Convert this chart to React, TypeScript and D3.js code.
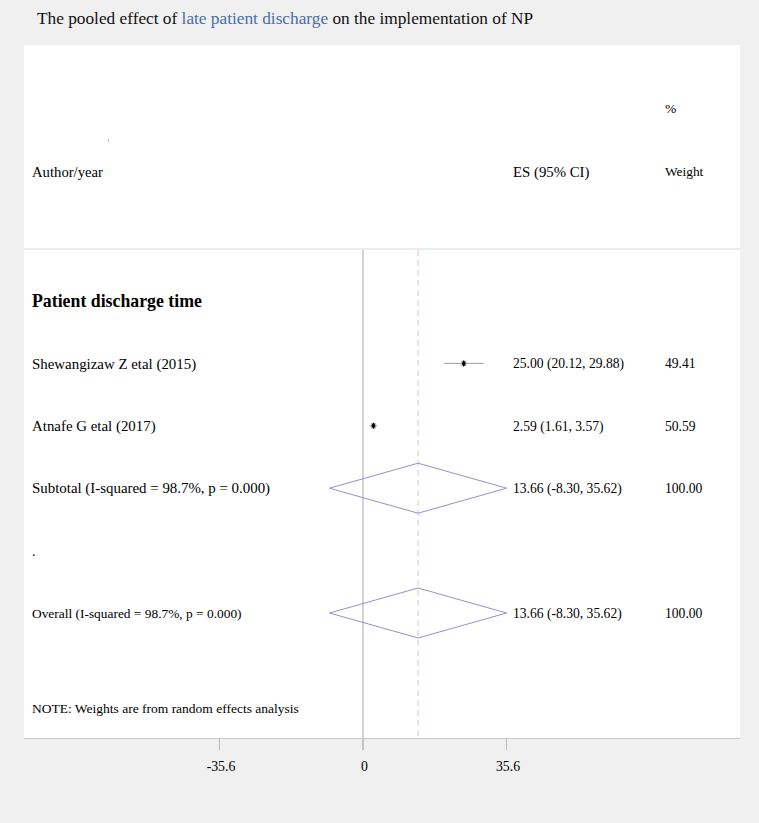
import React from "react";
import * as d3 from "d3";

const studies = ["Shewangizaw Z etal (2015)", "Atnafe G etal (2017)"];
const es = [25.0, 2.59];
const lower = [20.12, 1.61];
const upper = [29.88, 3.57];
const weights = [49.41, 50.59];
const esLabels = ["25.00 (20.12, 29.88)", "2.59 (1.61, 3.57)"];

const pooled = { es: 13.66, lo: -8.3, hi: 35.62, label: "13.66 (-8.30, 35.62)", weight: "100.00" };
const subtotalLabel = "Subtotal (I-squared = 98.7%, p = 0.000)";
const overallLabel = "Overall (I-squared = 98.7%, p = 0.000)";
const groupLabel = "Patient discharge time";
const ticks = [-35.6, 0, 35.6];

const W = 759;
const H = 823;
const FONT = "'Liberation Serif', 'Times New Roman', serif";

export default function App() {
  // x scale: value -> pixel (0 at 363, 35.6 at 506.5)
  const x = d3.scaleLinear().domain([0, 35.6]).range([363, 506.5]);
  // row index -> y
  const row = d3.scaleLinear().domain([0, 5]).range([301, 613]);

  const panelL = 24;
  const panelR = 740;
  const esX = 513;
  const wX = 665;

  const diamond = (y: number) => {
    const h = 25;
    return `M${x(pooled.lo)},${y} L${x(pooled.es)},${y - h} L${x(pooled.hi)},${y} L${x(pooled.es)},${y + h} Z`;
  };

  const boxSize = (w: number) => Math.sqrt(w) * 0.75;

  return (
    <div style={{ position: "fixed", left: 0, top: 0, width: W, height: H }}>
      <svg width={W} height={H} style={{ display: "block" }} fontFamily={FONT}>
        <rect width={W} height={H} fill="#f0f0f0" />

        {/* title */}
        <text x={37} y={24} fontSize={17.3} fill="#111">
          The pooled effect of <tspan fill="#4a6ea6">late patient discharge</tspan> on the implementation of NP
        </text>

        {/* header panel */}
        <rect x={panelL} y={45} width={panelR - panelL} height={203} fill="#fff" />
        <line x1={panelL} x2={panelR} y1={249} y2={249} stroke="#ebebeb" strokeWidth={2} />
        <rect x={panelL} y={250} width={panelR - panelL} height={488} fill="#fff" />

        <line x1={108.5} x2={108.5} y1={139} y2={142} stroke="#aaa" strokeWidth={0.8} />
        <text x={wX} y={113} fontSize={13.5}>%</text>
        <text x={32} y={177} fontSize={14.7}>Author/year</text>
        <text x={esX} y={177} fontSize={14.8}>ES (95% CI)</text>
        <text x={wX} y={176} fontSize={13.4}>Weight</text>

        {/* reference lines */}
        <line x1={x(0)} x2={x(0)} y1={250} y2={750} stroke="#c4c4c4" strokeWidth={1.5} />
        <line x1={x(pooled.es)} x2={x(pooled.es)} y1={250} y2={738} stroke="#e6c0c4" strokeWidth={1} strokeDasharray="6,4" />

        {/* group label */}
        <text x={32} y={row(0)} dy="0.35em" fontSize={17.8} fontWeight="bold">{groupLabel}</text>

        {studies.map((s, i) => {
          const y = row(i + 1);
          const b = boxSize(weights[i]);
          const cx = x(es[i]);
          return (
            <g key={s}>
              <text x={32} y={y} dy="0.35em" fontSize={14.9}>{s}</text>
              <line x1={x(lower[i])} x2={x(upper[i])} y1={y} y2={y} stroke="#9a9a9a" strokeWidth={1} />
              <rect x={cx - b / 2} y={y - b / 2} width={b} height={b} fill="#b4b4b4" />
              <path d={`M${cx},${y - 3.5} L${cx + 2},${y} L${cx},${y + 3.5} L${cx - 2},${y} Z`} fill="#000" />
              <text x={esX} y={y} dy="0.35em" fontSize={13.6}>{esLabels[i]}</text>
              <text x={wX} y={y} dy="0.35em" fontSize={13.6}>{weights[i].toFixed(2)}</text>
            </g>
          );
        })}

        {/* subtotal */}
        <text x={32} y={row(3)} dy="0.35em" fontSize={14.9}>{subtotalLabel}</text>
        <path d={diamond(row(3))} fill="none" stroke="#8484c4" strokeWidth={0.9} />
        <text x={esX} y={row(3)} dy="0.35em" fontSize={13.6}>{pooled.label}</text>
        <text x={wX} y={row(3)} dy="0.35em" fontSize={13.6}>{pooled.weight}</text>

        <text x={32} y={row(4)} dy="0.35em" fontSize={14}>.</text>

        {/* overall */}
        <text x={32} y={row(5)} dy="0.35em" fontSize={13.4}>{overallLabel}</text>
        <path d={diamond(row(5))} fill="none" stroke="#8484c4" strokeWidth={0.9} />
        <text x={esX} y={row(5)} dy="0.35em" fontSize={13.6}>{pooled.label}</text>
        <text x={wX} y={row(5)} dy="0.35em" fontSize={13.6}>{pooled.weight}</text>

        <text x={32} y={708} dy="0.35em" fontSize={13.5}>NOTE: Weights are from random effects analysis</text>

        {/* axis */}
        <line x1={panelL} x2={panelR} y1={738.5} y2={738.5} stroke="#c8c8c8" strokeWidth={1.2} />
        {ticks.map((t) => (
          <g key={t}>
            <line x1={x(t)} x2={x(t)} y1={738} y2={750} stroke="#bbb" strokeWidth={1} />
            <text x={x(t) + 1.5} y={766} dy="0.35em" textAnchor="middle" fontSize={13.8}>{t}</text>
          </g>
        ))}
      </svg>
    </div>
  );
}
